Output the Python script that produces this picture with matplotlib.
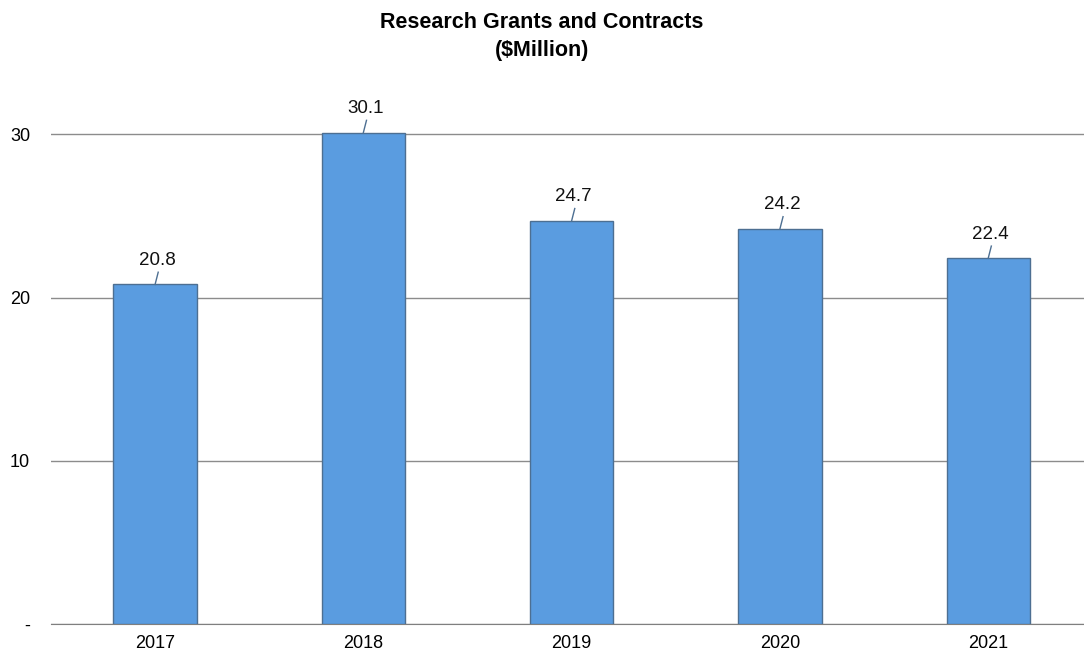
import matplotlib.pyplot as plt

plt.rcParams['font.family'] = ['Liberation Sans', 'DejaVu Sans']

# Research grants and contracts by fiscal year, $ million
years = ['2017', '2018', '2019', '2020', '2021']
grants = [20.8, 30.1, 24.7, 24.2, 22.4]
y_ticks = [0, 10, 20, 30]
y_tick_labels = ['-', '10', '20', '30']

fig = plt.figure(figsize=(10.84, 6.57), dpi=100)
ax = fig.add_axes([0.047, 0.05, 0.953, 0.87])

x = list(range(len(years)))
bars = ax.bar(x, grants, width=0.4, color='#5a9ce0', edgecolor='#4d6f92',
              linewidth=1.0, zorder=3)

# value labels sit above each bar with a short leader line
for xi, val in zip(x, grants):
    ax.plot([xi, xi + 0.015], [val, val + 0.75], color='#4d6f92',
            linewidth=1.0, zorder=4)
    ax.text(xi + 0.01, val + 0.95, f'{val:.1f}', ha='center', va='bottom',
            fontsize=13.5, color='#111111')

ax.set_xlim(-0.5, 4.46)
ax.set_ylim(0, 35)
ax.set_xticks(x)
ax.set_xticklabels(years, fontsize=13)
ax.set_yticks(y_ticks)
ax.set_yticklabels(y_tick_labels, fontsize=13)
ax.tick_params(axis='x', length=0, pad=8)
ax.tick_params(axis='y', length=0, pad=15)

ax.yaxis.grid(True, color='#8c8c8c', linewidth=1.0, zorder=0)
for side in ['top', 'right', 'left']:
    ax.spines[side].set_visible(False)
ax.spines['bottom'].set_color('#7f7f7f')

fig.text(0.5, 0.982, 'Research Grants and Contracts\n($Million)', ha='center',
         va='top', fontsize=15.5, fontweight='bold', linespacing=1.45)

plt.savefig('out.png', dpi=100)
plt.close()
